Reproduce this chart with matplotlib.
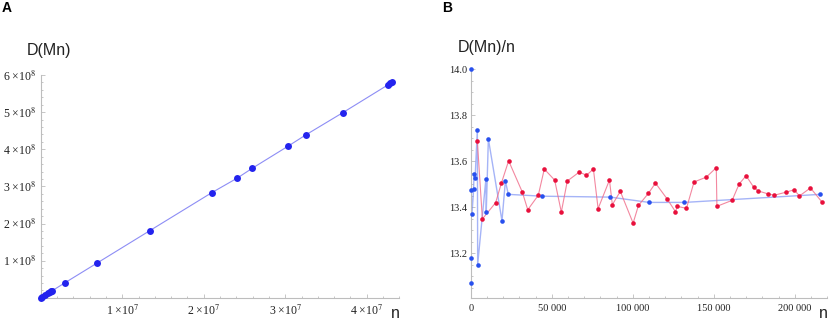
import numpy as np
import matplotlib.pyplot as plt
from matplotlib.ticker import MultipleLocator

plt.rcParams['font.family'] = ['Liberation Sans', 'DejaVu Sans']
plt.rcParams['mathtext.fontset'] = 'stix'

# panel A: D(Mn) against n
n_a = [0, 0.16e6, 0.57e6, 0.86e6, 1.10e6, 1.27e6, 1.39e6, 2.94e6, 6.95e6, 13.4e6,
       20.98e6, 24.09e6, 25.97e6, 30.4e6, 32.55e6, 37.1e6, 42.65e6, 42.9e6, 43.15e6]
d_a = [0, 2.2e6, 7.7e6, 11.6e6, 14.8e6, 17.1e6, 18.7e6, 0.40e8, 0.94e8, 1.81e8,
       2.83e8, 3.22e8, 3.49e8, 4.09e8, 4.39e8, 4.99e8, 5.74e8, 5.79e8, 5.81e8]
a_xticks = [1e7, 2e7, 3e7, 4e7]
a_xlabels = ['1 ×10$^{7}$', '2 ×10$^{7}$', '3 ×10$^{7}$', '4 ×10$^{7}$']
a_yticks = [1e8, 2e8, 3e8, 4e8, 5e8, 6e8]
a_ylabels = ['1 ×10$^{8}$', '2 ×10$^{8}$', '3 ×10$^{8}$', '4 ×10$^{8}$', '5 ×10$^{8}$', '6 ×10$^{8}$']

# panel B: D(Mn)/n, blue series
n_blue = [10, 30, 60, 100, 300, 800, 1800, 2000, 2700, 4100, 4300, 9400, 9600, 10900,
          19300, 21400, 23200, 44200, 86200, 110000, 131900, 215600]
r_blue = [12.0, 14.0, 13.07, 13.18, 13.474, 13.37, 13.477, 13.543, 13.525, 13.735, 13.15,
          13.523, 13.38, 13.696, 13.34, 13.513, 13.455, 13.447, 13.443, 13.42, 13.42, 13.455]

# panel B: red series
n_red = [4100, 7200, 15400, 18900, 23400, 31900, 35200, 41700, 45400, 51800, 55900, 59600,
         67000, 71400, 75700, 78600, 85600, 87400, 92300, 100200, 103500, 109600, 114000,
         121400, 126300, 127500, 133100, 137800, 145400, 151500, 151900, 161300, 165600,
         169900, 174500, 177300, 183500, 187200, 194800, 199600, 202800, 209600, 216900]
r_red = [13.687, 13.348, 13.419, 13.503, 13.601, 13.464, 13.388, 13.451, 13.565, 13.517,
         13.378, 13.513, 13.552, 13.538, 13.565, 13.393, 13.517, 13.41, 13.468, 13.33,
         13.407, 13.459, 13.504, 13.433, 13.38, 13.403, 13.394, 13.509, 13.53, 13.571,
         13.403, 13.429, 13.5, 13.536, 13.487, 13.47, 13.457, 13.451, 13.465, 13.475,
         13.448, 13.483, 13.42]
b_xticks = [0, 50000, 100000, 150000, 200000]
b_xlabels = ['0', '50 000', '100 000', '150 000', '200 000']
b_yticks = [13.2, 13.4, 13.6, 13.8, 14.0]
b_ylabels = ['13.2', '13.4', '13.6', '13.8', '14.0']

W, H = 830, 326
fig = plt.figure(figsize=(W / 100, H / 100), dpi=100)


def px_axes(x0, x1, y0, y1):
    # pixel box -> figure fraction
    return fig.add_axes([x0 / W, 1 - y1 / H, (x1 - x0) / W, (y1 - y0) / H])


def style(ax, xpad, ypad, fs):
    for s in ['top', 'right']:
        ax.spines[s].set_visible(False)
    for s in ['left', 'bottom']:
        ax.spines[s].set_color('#bdbdbd')
        ax.spines[s].set_linewidth(0.8)
    ax.tick_params(which='both', direction='in', color='#bdbdbd', width=0.6)
    ax.tick_params(which='major', length=3)
    ax.tick_params(which='minor', length=1.6)
    ax.tick_params(axis='x', pad=xpad)
    ax.tick_params(axis='y', pad=ypad)
    for lab in ax.get_xticklabels() + ax.get_yticklabels():
        lab.set_family('Liberation Serif')
        lab.set_fontsize(fs)
        lab.set_color('#222222')


# ---- panel A
ax1 = px_axes(40.7, 399.3, 75.0, 297.8)
ax1.plot(n_a, d_a, '-', color='#8d8df5', lw=0.8, zorder=2)
ax1.plot(n_a, d_a, 'o', color='#2323ee', ms=5, mec='none', clip_on=False, zorder=3)
ax1.set_xlim(0, 4.4e7)
ax1.set_ylim(0, 6e8)
ax1.set_xticks(a_xticks, a_xlabels)
ax1.set_yticks(a_yticks, a_ylabels)
ax1.xaxis.set_minor_locator(MultipleLocator(2e6))
ax1.yaxis.set_minor_locator(MultipleLocator(2e7))
style(ax1, 4.5, 3.4, 8.5)

# ---- panel B
ax2 = px_axes(470.7, 827.3, 68.0, 297.7)
ax2.plot(n_blue, r_blue, '-', color='#6a82f2', lw=1.0, alpha=0.6, zorder=2)
ax2.plot(n_red, r_red, '-', color='#f06a88', lw=0.8, alpha=0.8, zorder=2)
ax2.plot(n_red, r_red, 'o', color='#e8103c', ms=3.3, mec='none', clip_on=False, zorder=3)
ax2.plot(n_blue[1:], r_blue[1:], 'o', color='#2850ee', ms=3.3, mec='none', clip_on=False, zorder=4)
ax2.set_xlim(0, 220000)
ax2.set_ylim(13.0057, 14.0044)
ax2.set_xticks(b_xticks, b_xlabels)
ax2.set_yticks(b_yticks, b_ylabels)
ax2.xaxis.set_minor_locator(MultipleLocator(10000))
ax2.yaxis.set_minor_locator(MultipleLocator(0.05))
style(ax2, 4.5, 2.5, 7.5)

# ---- labels
def ftext(x, y, s, **kw):
    fig.text(x / W, 1 - y / H, s, **kw)


ftext(7, 7.5, 'A', fontsize=10, fontweight='bold', ha='center', va='center')
ftext(446.7, 7.5, 'B', fontsize=10, fontweight='bold', ha='center', va='center')
ftext(49, 50, 'D(Mn)', fontsize=11.5, ha='center', va='center', color='#222222')
ftext(486.7, 47.5, 'D(Mn)/n', fontsize=11.5, ha='center', va='center', color='#222222')
ftext(395, 314, 'n', fontsize=11.5, ha='center', va='center', color='#222222')
ftext(823.3, 314, 'n', fontsize=11.5, ha='center', va='center', color='#222222')

fig.savefig('out.png', dpi=100)
